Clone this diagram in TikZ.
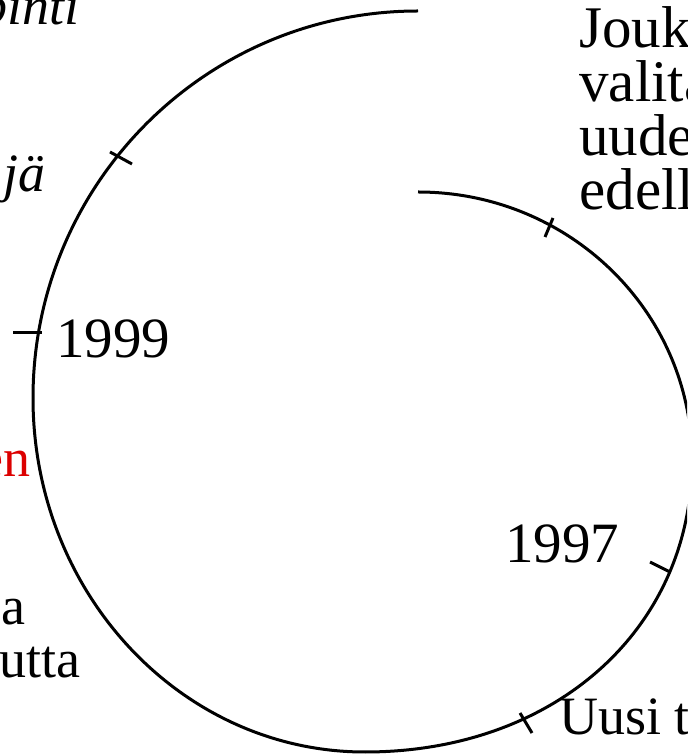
\documentclass[tikz,border=0pt]{standalone}
\usepackage{fontspec}
\setmainfont{Liberation Serif}
\definecolor{labelred}{RGB}{220,0,0}
\begin{document}
\begin{tikzpicture}[x=0.5pt, y=0.5pt]
  % Define styles
  \tikzstyle{spiral}=[line width=1.5pt, black]
  \tikzstyle{tick}=[line width=1.5pt, black]
  \tikzstyle{lbl}=[inner sep=0pt, font=\fontsize{27}{26.5}\selectfont]
  \tikzstyle{year}=[inner sep=0pt, font=\fontsize{28.5}{30}\selectfont]
  \tikzstyle{phase}=[lbl, font=\fontsize{27}{26.5}\selectfont\itshape]
  \tikzstyle{note}=[inner sep=0pt, align=left, font=\fontsize{29.5}{27}\selectfont]

  \useasboundingbox (0,0) rectangle (687,755);
  \clip (0,0) rectangle (687,755);

  % Spiral
  \draw[spiral] (418,563) arc[start angle=90, end angle=0, x radius=274, y radius=268]
    .. controls (692,126) and (555,3) .. (365,3)
    arc[start angle=-90, end angle=-180, x radius=332, y radius=354]
    arc[start angle=180, end angle=90, x radius=385, y radius=387];

  % Ticks
  \draw[tick] (545,518) -- (553,537);
  \draw[tick] (110,603) -- (132,591);
  \draw[tick] (13,422) -- (42,422);
  \draw[tick] (650,193) -- (670,183);
  \draw[tick] (520,42) -- (532,22);

  % Labels
  \node[phase, anchor=base east] (pinti) at (80,730) {pinti};
  \node[phase, anchor=base east] (ja) at (46,563) {jä};
  \node[year, anchor=base west] (y1999) at (56,397) {1999};
  \node[lbl, anchor=base east, text=labelred] (en) at (31,278) {en};
  \node[lbl, anchor=base east] (a) at (26,130) {a};
  \node[lbl, anchor=base east] (utta) at (81,77) {utta};
  \node[note, anchor=base west] (jouk) at (579,545) {Jouk\\valita\\uude\\edell};
  \node[year, anchor=base west] (y1997) at (505,192) {1997};
  \node[lbl, anchor=base west] (uusi) at (559,20) {Uusi t};
\end{tikzpicture}
\end{document}
